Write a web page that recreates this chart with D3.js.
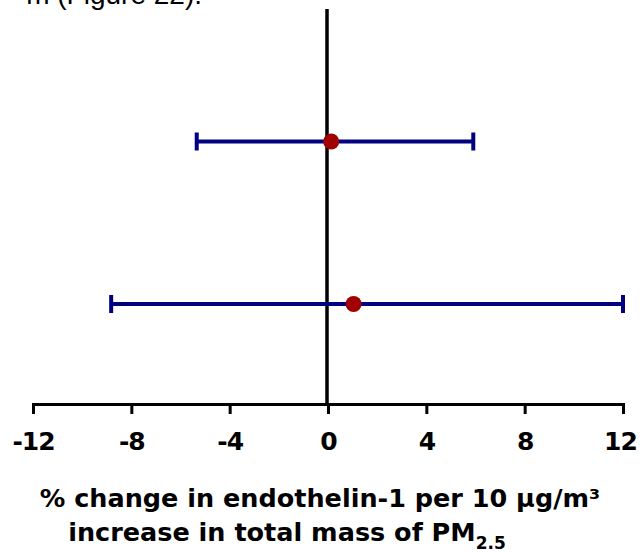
<!DOCTYPE html>
<html>
<head>
<meta charset="utf-8">
<script src="https://cdn.jsdelivr.net/npm/d3@7"></script>
<style>
  html, body { margin: 0; padding: 0; background: #fff; }
  svg { display: block; }
</style>
</head>
<body>
<svg id="chart" width="640" height="553"></svg>
<script>
// ---- data ----
const categories = ["Estimate A", "Estimate B"];
const estimates = [0.13, 1.04];
const lowerCI = [-5.34, -8.82];
const upperCI = [5.91, 12.0];
const tickValues = [-12, -8, -4, 0, 4, 8, 12];
const xTitleLine1 = "% change in endothelin-1 per 10 µg/m³";
const xTitleLine2 = "increase in total mass of PM";
const xTitleSub = "2.5";
const captionText = "m (Figure 22).";

const svg = d3.select("#chart");

const x = d3.scaleLinear().domain([-12, 12]).range([33, 623]);
const y = d3.scalePoint().domain(categories).range([141.5, 304]);
const axisY = 404;

// caption fragment at top (cropped by the page edge)
svg.append("text")
  .attr("x", 202).attr("y", 4)
  .attr("text-anchor", "end")
  .attr("font-family", "'Liberation Sans', Arial, sans-serif")
  .attr("font-size", 28)
  .attr("fill", "#000")
  .text(captionText);

// x axis
const axis = d3.axisBottom(x)
  .tickValues(tickValues)
  .tickSize(10)
  .tickSizeOuter(0)
  .tickFormat(d => String(d));

const gx = svg.append("g")
  .attr("transform", `translate(0,${axisY})`)
  .call(axis);
gx.select(".domain").attr("stroke", "#000").attr("stroke-width", 3).attr("stroke-linecap", "square");
gx.selectAll(".tick line").attr("stroke", "#000").attr("stroke-width", 3);
gx.selectAll(".tick text")
  .attr("fill", "#000")
  .attr("font-family", "'DejaVu Sans', sans-serif")
  .attr("font-weight", "bold")
  .attr("font-size", 25)
  .attr("letter-spacing", -1)
  .attr("dy", null)
  .attr("y", 46);
gx.selectAll(".tick").filter(d => d === 12).select("text").attr("dx", -3);

// zero reference line
svg.append("line")
  .attr("x1", x(0) - 1).attr("x2", x(0) - 1)
  .attr("y1", 9).attr("y2", axisY)
  .attr("stroke", "#000").attr("stroke-width", 3.5);

const rows = categories.map((c, i) => ({ c, est: estimates[i], lo: lowerCI[i], hi: upperCI[i] }));

const g = svg.append("g");
// CI lines
g.selectAll("line.ci").data(rows).enter().append("line")
  .attr("class", "ci")
  .attr("x1", d => x(d.lo)).attr("x2", d => x(d.hi))
  .attr("y1", d => y(d.c)).attr("y2", d => y(d.c))
  .attr("stroke", "#000080").attr("stroke-width", 4);
// caps
["lo", "hi"].forEach(k => {
  g.selectAll("line.cap-" + k).data(rows).enter().append("line")
    .attr("class", "cap-" + k)
    .attr("x1", d => x(d[k])).attr("x2", d => x(d[k]))
    .attr("y1", d => y(d.c) - 9).attr("y2", d => y(d.c) + 9)
    .attr("stroke", "#000080").attr("stroke-width", 4);
});
// points
g.selectAll("circle.pt").data(rows).enter().append("circle")
  .attr("class", "pt")
  .attr("cx", d => x(d.est)).attr("cy", d => y(d.c))
  .attr("r", 8)
  .attr("fill", "#a00000");

// axis title
svg.append("text")
  .attr("x", 320).attr("y", 507)
  .attr("text-anchor", "middle")
  .attr("font-family", "'DejaVu Sans', sans-serif")
  .attr("font-weight", "bold")
  .attr("font-size", 25.5)
  .attr("fill", "#000")
  .text(xTitleLine1);
const t2 = svg.append("text")
  .attr("x", 287).attr("y", 541)
  .attr("text-anchor", "middle")
  .attr("font-family", "'DejaVu Sans', sans-serif")
  .attr("font-weight", "bold")
  .attr("font-size", 25.5)
  .attr("fill", "#000");
t2.append("tspan").text(xTitleLine2);
t2.append("tspan").attr("font-size", 17).attr("dy", 8).text(xTitleSub);
</script>
</body>
</html>
